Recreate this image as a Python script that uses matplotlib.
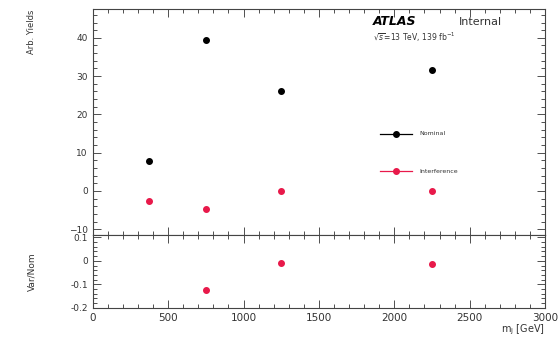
import numpy as np
import matplotlib
matplotlib.use("Agg")
import matplotlib.pyplot as plt
from matplotlib.ticker import MultipleLocator

# Mass points and yields
mass = [375, 750, 1250, 2250]
nominal = [7.9, 39.5, 26.0, 31.6]
interference = [-2.6, -4.6, 0.1, -0.1]
ratio_mass = [750, 1250, 2250]
ratio = [-0.125, -0.008, -0.012]

RED = "#e8194a"

fig = plt.figure(figsize=(5.59, 3.38), dpi=100)
ax = fig.add_axes([0.166, 0.305, 0.809, 0.668])
rx = fig.add_axes([0.166, 0.089, 0.809, 0.216], sharex=ax)


def root_style(a):
    a.tick_params(which="both", direction="in", top=True, right=True,
                  labelsize=6.5, colors="#333333", width=0.6)
    a.tick_params(which="major", length=6)
    a.tick_params(which="minor", length=3)
    for s in a.spines.values():
        s.set_linewidth(0.8)
        s.set_color("#444444")


ax.errorbar(mass, nominal, xerr=[0] * 4, fmt="o", color="black", ms=4,
            label="Nominal")
ax.errorbar(mass, interference, xerr=[0] * 4, fmt="o", color=RED, ms=4,
            label="Interference")
ax.set_xlim(0, 3000)
ax.set_ylim(-11.5, 47.5)
ax.yaxis.set_major_locator(MultipleLocator(10))
ax.yaxis.set_minor_locator(MultipleLocator(2))
ax.xaxis.set_major_locator(MultipleLocator(500))
ax.xaxis.set_minor_locator(MultipleLocator(100))
root_style(ax)
ax.tick_params(labelbottom=False)
ax.set_ylabel("Arb. Yields", fontsize=6, color="#333333", loc="top")

# Legend drawn by hand in ROOT fashion
for i, (lab, col) in enumerate([("Nominal", "black"), ("Interference", RED)]):
    yy = 0.447 - i * 0.164
    ax.plot([0.635, 0.706], [yy, yy], color=col, lw=0.9, transform=ax.transAxes)
    ax.plot([0.67], [yy], "o", color=col, ms=4, transform=ax.transAxes)
    ax.text(0.723, yy, lab, fontsize=4.5, va="center", color="#333333",
            transform=ax.transAxes)

ax.text(0.62, 0.945, "ATLAS", fontsize=9, fontweight="bold", style="italic",
        transform=ax.transAxes, va="center")
ax.text(0.81, 0.945, "Internal", fontsize=8, transform=ax.transAxes,
        va="center", color="#333333")
ax.text(0.62, 0.875, r"$\sqrt{s}$=13 TeV, 139 fb$^{-1}$", fontsize=5.5,
        transform=ax.transAxes, va="center", color="#333333")

rx.errorbar(ratio_mass, ratio, xerr=[0] * 3, fmt="o", color=RED, ms=4)
rx.set_ylim(-0.2, 0.11)
rx.yaxis.set_major_locator(MultipleLocator(0.1))
rx.yaxis.set_minor_locator(MultipleLocator(0.02))
root_style(rx)
rx.tick_params(axis="x", labelsize=7.5)
rx.set_yticks([-0.2, -0.1, 0, 0.1])
rx.set_yticklabels(["-0.2", "-0.1", "0", "0.1"])
rx.set_ylabel("Var/Nom", fontsize=6.5, color="#333333")
rx.yaxis.set_label_coords(-0.125, 0.5)
ax.yaxis.set_label_coords(-0.125, 1.0)
rx.set_xlabel(r"m$_{\rm j}$ [GeV]", fontsize=7, loc="right", color="#333333",
              labelpad=0)

fig.savefig("out.png", dpi=100, facecolor="white")
